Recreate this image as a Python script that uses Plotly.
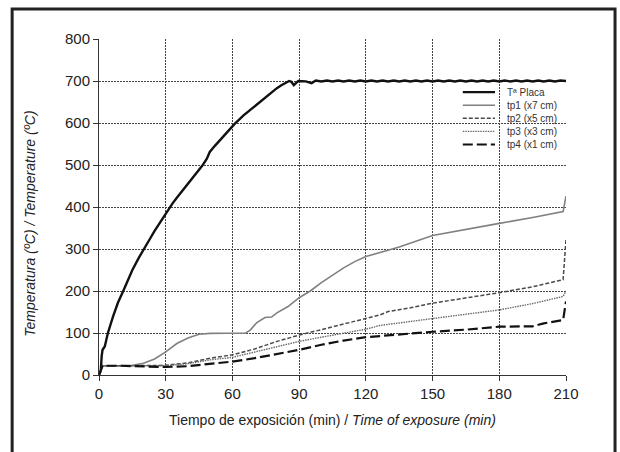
import plotly.graph_objects as go

# ---------------- data ----------------
placa_x = [0, 0.8, 1.2, 1.6, 2.6, 4, 6.3, 8.5, 10.9, 13, 15, 18, 20.6, 23, 25, 28, 30, 33, 35, 38, 40, 43,
           46.4, 48.5, 49.8, 52, 55, 58, 61, 65, 70.8, 74, 77.6, 80, 82, 84, 85.5, 86.5, 87.6, 89.6, 93, 95.6,
           97.5, 100, 102.5, 105, 107.5, 110, 112.5, 115, 117.5, 120, 122.5, 125, 127.5, 130, 132.5,
           135, 137.5, 140, 142.5, 145, 147.5, 150, 152.5, 155, 157.5, 160, 162.5, 165, 167.5, 170,
           172.5, 175, 177.5, 180, 182.5, 185, 187.5, 190, 192.5, 195, 197.5, 200, 202.5, 205, 207.5, 210]
placa_y = [0, 10, 45, 60, 68, 100, 139, 172, 200, 228, 250, 280, 302, 325, 343, 368, 384, 408, 422, 442, 455, 474,
           498, 515, 531, 545, 563, 581, 598, 618, 643, 658, 674, 683, 690, 696, 700, 698, 690, 700, 699, 695,
           701, 699, 701, 699, 701, 699, 701, 699, 701, 699, 701, 699, 701, 699, 701,
           699, 701, 699, 701, 699, 701, 699, 701, 699, 701, 699, 701, 699, 701, 699,
           701, 699, 701, 699, 701, 699, 701, 699, 701, 699, 701, 699, 701, 699, 701, 700]

tp1_x = [0, 1.2, 1.6, 8, 15, 20, 25, 30, 35, 40, 45, 50, 66, 68, 71, 74.6, 77.6, 80, 85, 90, 95, 100,
         105, 110, 115, 120, 126, 135, 150, 165, 180, 195, 208.7, 210]
tp1_y = [0, 15, 22, 22, 23, 28, 38, 55, 75, 88, 97, 99, 100, 107, 125, 137, 138, 148, 163, 184, 200, 220,
         238, 255, 270, 282, 291, 305, 332, 347, 361, 375, 389, 426]

tp2_x = [0, 1.2, 1.6, 10, 20, 30, 40, 50, 60, 70, 80, 90, 100, 110, 120, 126.3, 130, 140, 150, 165, 180,
         195, 208.7, 210]
tp2_y = [0, 15, 22, 22, 22, 23, 29, 40, 48, 62, 80, 95, 108, 122, 135, 143, 151, 160, 171, 183, 196,
         210, 227, 322]

tp3_x = [0, 1.2, 1.6, 10, 20, 30, 40, 50, 60, 70, 80, 90, 100, 110, 120, 126.3, 135, 150, 165, 180,
         195, 208.7, 210]
tp3_y = [0, 15, 22, 22, 22, 22, 27, 36, 42, 55, 68, 80, 90, 100, 109, 118, 124, 133, 143, 155,
         170, 187, 200]

tp4_x = [0, 1.2, 1.6, 10, 20, 25, 30, 40, 50, 60, 70, 80, 90, 100, 110, 120, 126.3, 135, 150, 165,
         180, 195, 200, 208.7, 210]
tp4_y = [0, 15, 22, 22, 21, 19, 19, 21, 27, 32, 40, 50, 60, 72, 82, 90, 93, 97, 103, 108,
         115, 116, 123, 131, 175]

x_ticks = [0, 30, 60, 90, 120, 150, 180, 210]
y_ticks = [0, 100, 200, 300, 400, 500, 600, 700, 800]

legend_names = ["Tª Placa", "tp1 (x7 cm)", "tp2 (x5 cm)", "tp3 (x3 cm)", "tp4 (x1 cm)"]

# ---------------- styles ----------------
styles = [
    dict(color="#111111", width=2.4, dash="solid"),
    dict(color="#808080", width=1.6, dash="solid"),
    dict(color="#4a4a4a", width=1.5, dash="4px,2px"),
    dict(color="#6a6a6a", width=1.4, dash="1.5px,1px"),
    dict(color="#111111", width=2.2, dash="10px,4px"),
]

series = [(placa_x, placa_y), (tp1_x, tp1_y), (tp2_x, tp2_y), (tp3_x, tp3_y), (tp4_x, tp4_y)]

fig = go.Figure()
for (xs, ys), name, st in zip(series, legend_names, styles):
    fig.add_trace(go.Scatter(x=xs, y=ys, mode="lines", name=name, line=st,
                             showlegend=False))

font_family = "Liberation Sans, Arial, sans-serif"
grid_dash = "2px,1px"

fig.update_layout(
    width=620, height=452,
    margin=dict(l=99, r=54, t=39, b=77),
    paper_bgcolor="white", plot_bgcolor="white",
    font=dict(family=font_family, color="#222222"),
    xaxis=dict(range=[0, 210], tickvals=x_ticks, showgrid=True, gridcolor="#444444", griddash=grid_dash,
               gridwidth=1, showline=True, linecolor="#333333", linewidth=1, zeroline=False,
               ticks="outside", ticklen=5, tickcolor="#333333", tickfont=dict(size=15)),
    yaxis=dict(range=[0, 800], tickvals=y_ticks, showgrid=True, gridcolor="#444444", griddash=grid_dash,
               gridwidth=1, showline=True, linecolor="#333333", linewidth=1, zeroline=False,
               ticks="outside", ticklen=5, tickcolor="#333333", tickfont=dict(size=15)),
)

# outer frame
fig.add_shape(type="rect", xref="paper", yref="paper", x0=-0.186, x1=1.105, y0=-0.35, y1=1.089,
              line=dict(color="#222222", width=3), fillcolor="rgba(0,0,0,0)", layer="above")

# axis titles
fig.add_annotation(xref="paper", yref="paper", x=-0.148, y=0.45, textangle=-90,
                   text="<i>Temperatura (ºC) / Temperature (ºC)</i>", showarrow=False,
                   font=dict(size=14, color="#222222"), xanchor="center", yanchor="middle")
fig.add_annotation(xref="paper", yref="paper", x=0.5, y=-0.135,
                   text="Tiempo de exposición (min) / <i>Time of exposure (min)</i>", showarrow=False,
                   font=dict(size=14, color="#222222"), xanchor="center", yanchor="middle")

# manual legend
leg_y = [0.842, 0.803, 0.764, 0.725, 0.686]
for name, st, yy in zip(legend_names, styles, leg_y):
    fig.add_shape(type="line", xref="paper", yref="paper", x0=0.779, x1=0.848, y0=yy, y1=yy,
                  line=dict(color=st["color"], width=st["width"], dash=st["dash"]))
    fig.add_annotation(xref="paper", yref="paper", x=0.869, y=yy, text=name, showarrow=False,
                       xanchor="left", yanchor="middle", font=dict(size=10, color="#333333"),
                       bgcolor="rgba(0,0,0,0)")

fig.write_html("out.html")
